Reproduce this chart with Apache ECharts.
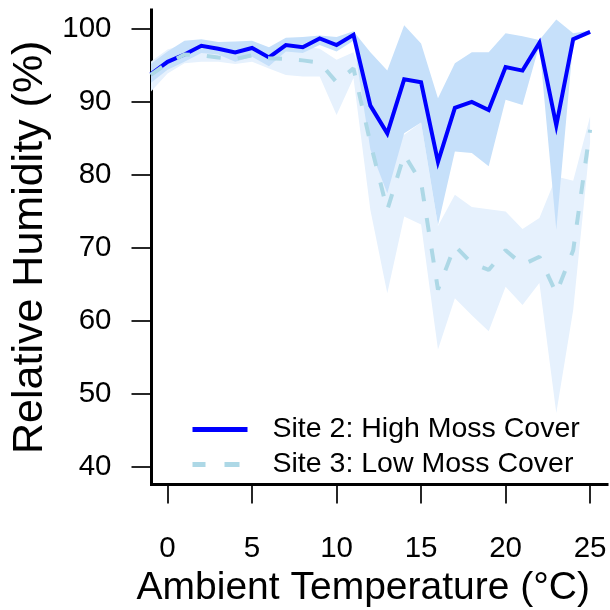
<!DOCTYPE html>
<html>
<head>
<meta charset="utf-8">
<script src="https://cdn.jsdelivr.net/npm/echarts@6/dist/echarts.min.js"></script>
<style>
html,body{margin:0;padding:0;background:#fff;}
#chart{width:610px;height:610px;}
</style>
</head>
<body>
<div id="chart"></div>
<script>
// Ambient temperature (°C)
const temps = [-1,0,1,2,3,4,5,6,7,8,9,10,11,12,13,14,15,16,17,18,19,20,21,22,23,24,25];

// Site 2: High Moss Cover — mean and band
const site2 =      [93.8,95.5,96.5,97.7,97.3,96.8,97.4,96.1,97.8,97.5,98.7,97.8,99.2,89.5,85.7,93.1,92.7,81.8,89.2,90.0,88.9,94.8,94.3,98.1,86.8,98.6,99.6];
const site2Upper = [95.2,96.9,98.4,98.6,98.2,98.3,98.4,97.5,98.8,98.9,99.1,98.9,99.7,96.8,94.3,100.5,98.0,90.5,95.3,96.8,96.8,99.4,99.0,98.5,101.3,99.4,99.8];
const site2Lower = [92.6,94.4,95.5,96.7,96.5,95.5,96.2,94.9,96.9,96.7,97.8,96.9,98.4,83.5,77.5,85.7,87.2,73.1,83.2,83.0,81.2,90.3,89.6,97.8,72.5,98.2,99.4];

// Site 3: Low Moss Cover — mean and band
const site3 =      [93.7,95.3,96.5,96.4,96.1,95.9,96.4,96.0,95.9,95.7,95.4,92.7,94.6,84.4,75.2,82.8,79.0,64.3,70.3,67.9,67.0,69.7,67.7,68.8,63.8,69.7,86.2];
const site3Upper = [95.5,97.2,97.9,97.9,97.7,97.6,97.7,97.0,97.6,97.6,97.3,95.8,96.8,90.0,84.0,85.5,87.2,73.0,77.3,75.6,75.3,75.0,72.6,74.1,79.8,79.2,88.0];
const site3Lower = [91.4,93.9,95.3,95.5,95.5,95.2,95.5,94.6,93.7,93.5,93.5,88.2,93.3,75.2,63.8,74.3,73.2,56.1,63.1,60.8,58.6,64.7,62.2,65.2,47.4,61.5,84.5];

// Tick labels
const xTicks = [0,5,10,15,20,25];
const yTicks = [40,50,60,70,80,90,100];

const seriesNames = ['Site 2: High Moss Cover','Site 3: Low Moss Cover'];

const FONT = '"Liberation Sans", Arial, Helvetica, sans-serif';

function bandSeries(lo, hi, color) {
  return {
    type: 'custom',
    silent: true,
    clip: true,
    data: temps.map((t, i) => [t, lo[i], hi[i]]),
    encode: { x: 0, y: [1, 2] },
    renderItem: function (params, api) {
      if (params.dataIndex !== 0) return null;
      const top = temps.map((t, i) => api.coord([t, hi[i]]));
      const bot = temps.map((t, i) => api.coord([t, lo[i]])).reverse();
      return {
        type: 'polygon',
        shape: { points: top.concat(bot) },
        style: { fill: color }
      };
    }
  };
}

const chart = echarts.init(document.getElementById('chart'), null, { renderer: 'canvas' });
chart.setOption({
  animation: false,
  backgroundColor: '#ffffff',
  grid: { left: 151.5, right: 3, top: 10, bottom: 125.5, containLabel: false, outerBoundsMode: 'none' },
  legend: {
    orient: 'vertical',
    left: 192.5,
    top: 415,
    padding: 0,
    itemWidth: 55,
    itemHeight: 5,
    itemGap: 6,
    data: [
      { name: seriesNames[0], icon: 'path://M0,0H55V5H0Z' },
      { name: seriesNames[1], icon: 'path://M0,0H13V5H0Z M32,0H47V5H32Z M54.95,0H55V0.02H54.95Z' }
    ],
    textStyle: { fontSize: 28.5, color: '#000', fontFamily: FONT, padding: [0, 0, 0, 20] }
  },
  xAxis: {
    type: 'value',
    min: -0.95,
    max: 26,
    name: 'Ambient Temperature (°C)',
    nameLocation: 'middle',
    nameGap: 83,
    nameTextStyle: { fontSize: 39, color: '#000', fontFamily: FONT, padding: [0, 32, 0, 0] },
    splitLine: { show: false },
    axisLine: { show: true, onZero: false, lineStyle: { color: '#000', width: 3, cap: 'square' } },
    axisTick: { show: true, inside: false, length: 19, customValues: xTicks, lineStyle: { color: '#000', width: 1.7 } },
    axisLabel: { customValues: xTicks, margin: 49.5, fontSize: 29.5, color: '#000', fontFamily: FONT }
  },
  yAxis: {
    type: 'value',
    min: 37.6,
    max: 102.6,
    name: 'Relative Humidity (%)',
    nameLocation: 'middle',
    nameGap: 95,
    nameRotate: 90,
    nameTextStyle: { fontSize: 43, color: '#000', fontFamily: FONT },
    splitLine: { show: false },
    axisLine: { show: true, onZero: false, lineStyle: { color: '#000', width: 3, cap: 'square' } },
    axisTick: { show: true, inside: false, length: 20, customValues: yTicks, lineStyle: { color: '#000', width: 1.7 } },
    axisLabel: { customValues: yTicks, margin: 40, fontSize: 29.5, color: '#000', fontFamily: FONT }
  },
  series: [
    bandSeries(site3Lower, site3Upper, '#e6f1fd'),
    bandSeries(site2Lower, site2Upper, '#c6e0fa'),
    {
      name: seriesNames[0],
      type: 'line',
      data: temps.map((t, i) => [t, site2[i]]),
      symbol: 'none',
      color: '#0000ff',
      lineStyle: { color: '#0000ff', width: 4, join: 'miter' }
    },
    {
      name: seriesNames[1],
      type: 'line',
      data: temps.map((t, i) => [t, site3[i]]),
      symbol: 'none',
      color: '#add8e6',
      lineStyle: { color: '#add8e6', width: 4, type: [14, 17] }
    }
  ]
});
</script>
</body>
</html>
